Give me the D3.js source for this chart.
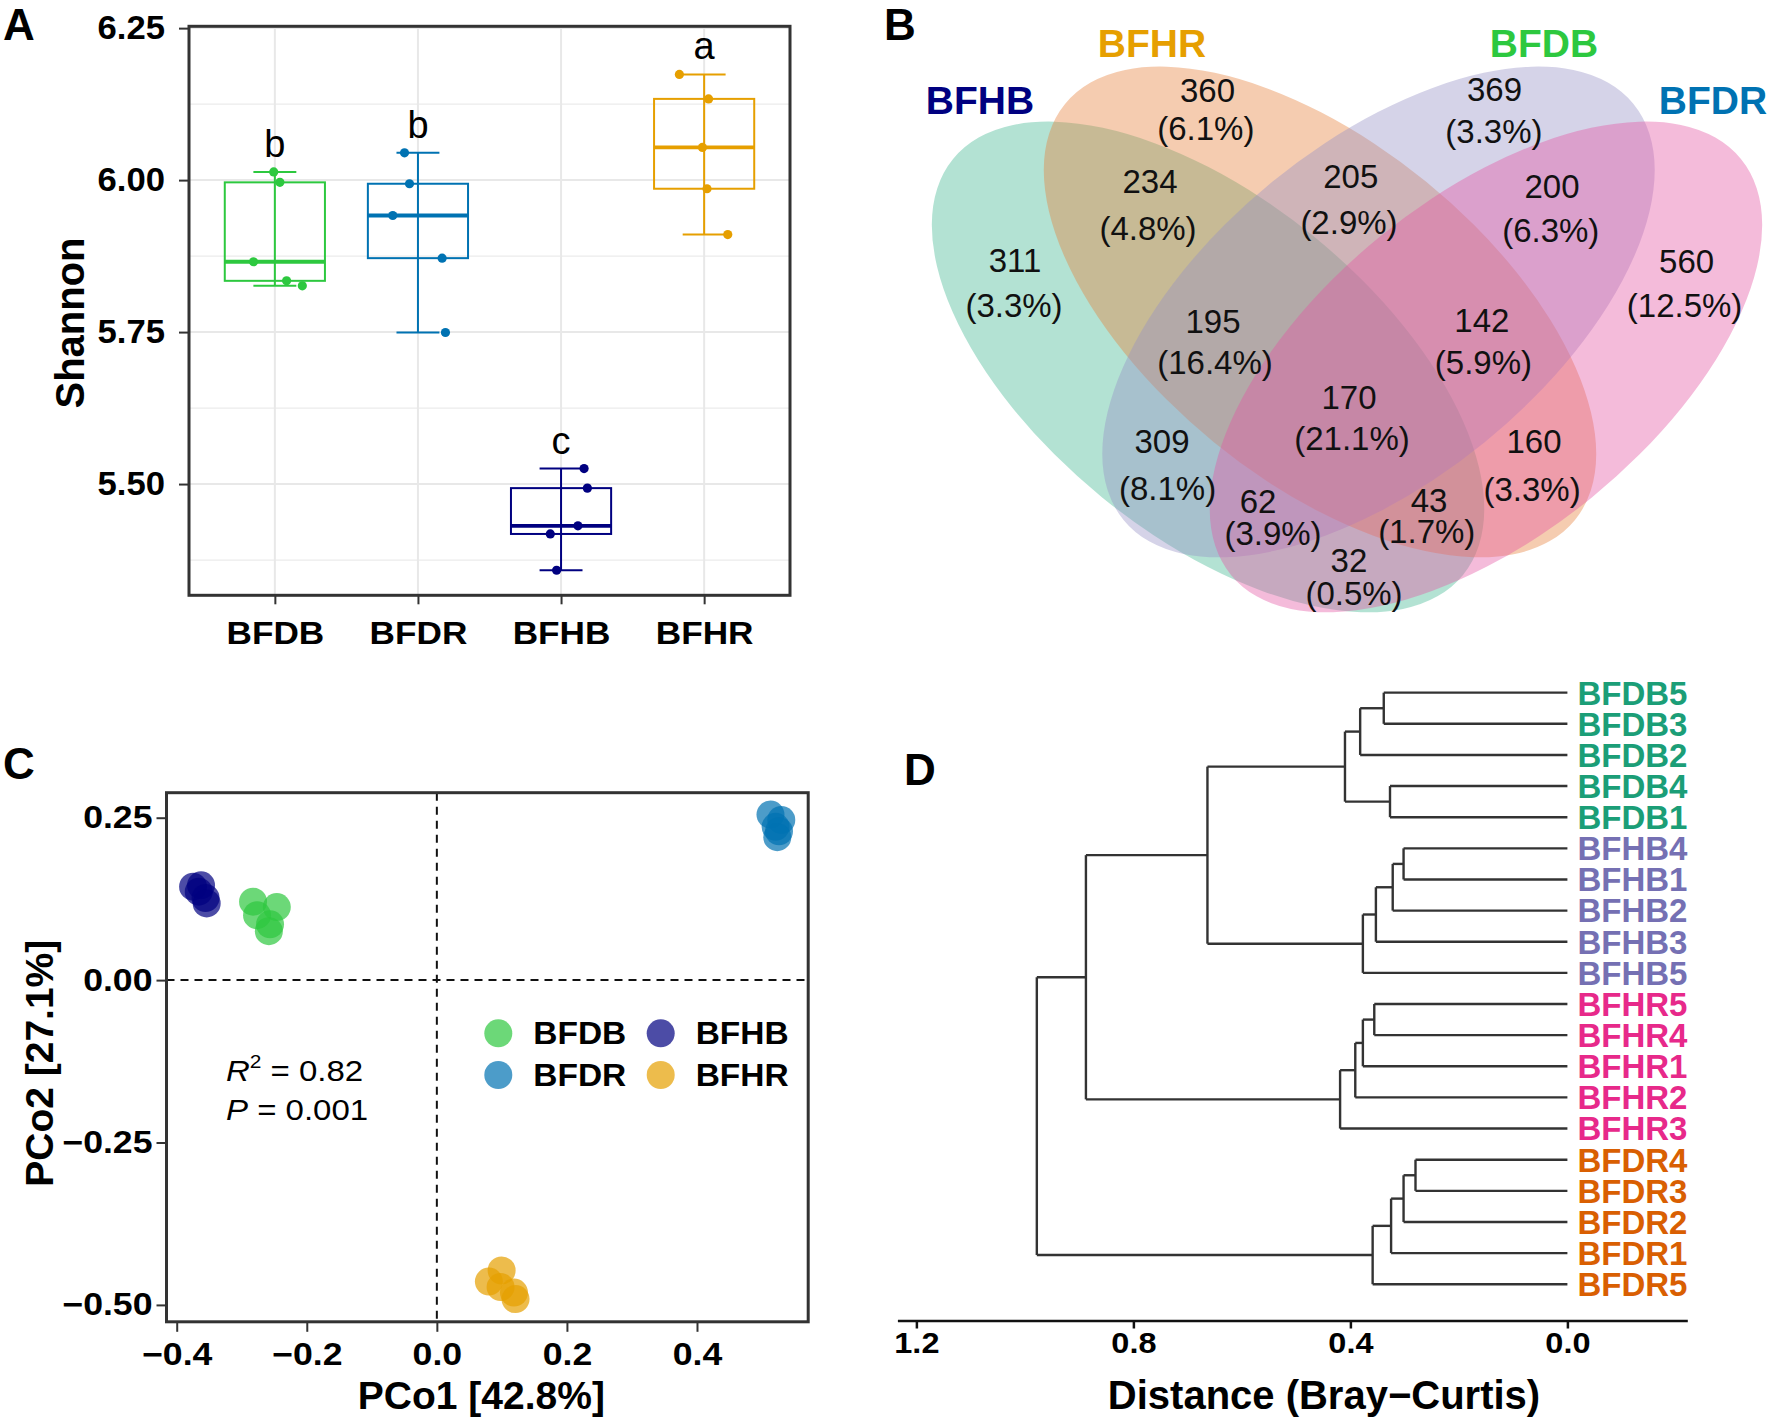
<!DOCTYPE html>
<html>
<head>
<meta charset="utf-8">
<script src="https://cdn.jsdelivr.net/npm/d3@7"></script>
<style>
  html, body { margin: 0; padding: 0; background: #fff; }
  svg { display: block; font-family: "Liberation Sans", Arial, Helvetica, sans-serif; }
</style>
</head>
<body>
<svg id="fig" width="1771" height="1423"></svg>
<script>
// ---------- data ----------
const groups = [ "BFDB", "BFDR", "BFHB", "BFHR" ];

// panel A: Shannon index, 5 samples per group
const shannonBFDB = [ 6.0134, 5.9963, 5.8657, 5.8343, 5.8261 ];
const shannonBFDR = [ 6.0448, 5.9940, 5.9418, 5.8716, 5.7493 ];
const shannonBFHB = [ 5.5254, 5.4933, 5.4313, 5.4179, 5.3582 ];
const shannonBFHR = [ 6.1739, 6.1336, 6.0537, 5.9858, 5.9104 ];
// horizontal jitter of the points, in category units
const jitterBFDB = [ -0.008, 0.035, -0.149, 0.082, 0.192 ];
const jitterBFDR = [ -0.094, -0.059, -0.176, 0.169, 0.192 ];
const jitterBFHB = [ 0.161, 0.184, 0.118, -0.075, -0.031 ];
const jitterBFHR = [ -0.173, 0.031, -0.012, 0.020, 0.165 ];
const sigLetters = [ "b", "b", "c", "a" ];
const shannonTicks = [ 5.50, 5.75, 6.00, 6.25 ];

// panel B: Venn counts
const vennSets = [ "BFHB", "BFHR", "BFDB", "BFDR" ];
const vennRegions = [ "BFHB", "BFHR", "BFDB", "BFDR", "BFHB&BFHR", "BFHR&BFDB", "BFDB&BFDR",
	"BFHB&BFHR&BFDB", "BFHR&BFDB&BFDR", "BFHB&BFHR&BFDB&BFDR", "BFHB&BFDB", "BFHR&BFDR",
	"BFHB&BFDB&BFDR", "BFHB&BFHR&BFDR", "BFHB&BFDR" ];
const vennCounts = [ 311, 360, 369, 560, 234, 205, 200, 195, 142, 170, 309, 160, 62, 43, 32 ];
const vennPercents = [ 3.3, 6.1, 3.3, 12.5, 4.8, 2.9, 6.3, 16.4, 5.9, 21.1, 8.1, 3.3, 3.9, 1.7, 0.5 ];

// panel C: PCoA scores
const pco1BFDB = [ -0.2826, -0.2461, -0.2765, -0.2565, -0.2583 ];
const pco2BFDB = [ 0.1208, 0.1124, 0.0999, 0.0859, 0.0754 ];
const pco1BFDR = [ 0.5130, 0.5296, 0.5209, 0.5261, 0.5235 ];
const pco2BFDR = [ 0.2549, 0.2465, 0.2360, 0.2291, 0.2200 ];
const pco1BFHB = [ -0.3748, -0.3626, -0.3661, -0.3557, -0.3539 ];
const pco2BFHB = [ 0.1439, 0.1459, 0.1362, 0.1264, 0.1180 ];
const pco1BFHR = [ 0.0996, 0.0800, 0.0980, 0.1186, 0.1210 ];
const pco2BFHR = [ -0.4470, -0.4640, -0.4725, -0.4810, -0.4910 ];
const pcoXTicks = [ -0.4, -0.2, 0.0, 0.2, 0.4 ];
const pcoYTicks = [ 0.25, 0.00, -0.25, -0.50 ];

// panel D: hclust style merges (negative = leaf index, positive = earlier merge)
const leafNames = [ "BFDB5", "BFDB3", "BFDB2", "BFDB4", "BFDB1", "BFHB4", "BFHB1", "BFHB2", "BFHB3", "BFHB5",
	"BFHR5", "BFHR4", "BFHR1", "BFHR2", "BFHR3", "BFDR4", "BFDR3", "BFDR2", "BFDR1", "BFDR5" ];
const mergeLeft   = [ -16, -6,  1,  2,  3, -4, -1,  4, -11,  5,  8,  9,  7, 12, 13, 14, 15, 17, 18 ];
const mergeRight  = [ -17, -7, -18, -8, -19, -5, -2, -9, -12, -20, -10, -13, -3, -14, 6, -15, 11, 16, 10 ];
const mergeHeight = [ 0.280, 0.302, 0.302, 0.322, 0.325, 0.327, 0.3385, 0.353, 0.356, 0.359,
	0.377, 0.377, 0.382, 0.391, 0.410, 0.419, 0.6635, 0.8875, 0.978 ];
const distTicks = [ 1.2, 0.8, 0.4, 0.0 ];

// ---------- styles ----------
const groupColor = { BFDB: "#2DC83F", BFDR: "#0072B2", BFHB: "#000080", BFHR: "#E69F00" };
const vennFill = { BFHB: "#41B691", BFHR: "#E6803A", BFDB: "#9691C6", BFDR: "#E455A3" };
const leafColor = { BFDB: "#1B9E77", BFHB: "#7570B3", BFHR: "#E7298A", BFDR: "#D95F02" };

const svg = d3.select( "#fig" );

// widen text horizontally around its anchor
function stretch( sel, k ) {
	sel.each( function() {
		let t = d3.select( this );
		let x = +t.attr( "x" ) || 0;
		t.attr( "x", x / k ).attr( "transform", "scale(" + k + ",1)" );
	});
}

// panel letters
[ [ "A", 3, 40 ], [ "B", 884, 40 ], [ "C", 3, 779 ], [ "D", 904, 785 ] ].forEach( p => {
	svg.append( "text" ).attr( "x", p[1] ).attr( "y", p[2] )
		.attr( "font-size", 44 ).attr( "font-weight", "bold" ).text( p[0] );
});

// ================= panel A =================
( function() {
	const shannon = [ shannonBFDB, shannonBFDR, shannonBFHB, shannonBFHR ];
	const jitter = [ jitterBFDB, jitterBFDR, jitterBFHB, jitterBFHR ];
	const left = 189, right = 790, top = 26.3, bottom = 595.3;

	const x = d3.scaleLinear().domain( [ 0.4, 4.6 ] ).range( [ left, right ] );
	const y = d3.scaleLinear().domain( [ 5.317, 6.253 ] ).range( [ bottom, top ] );
	const g = svg.append( "g" );

	// grid
	g.selectAll( ".minor" ).data( shannonTicks.map( v => v - 0.125 ) ).join( "line" )
		.attr( "x1", left ).attr( "x2", right ).attr( "y1", d => y( d ) ).attr( "y2", d => y( d ) )
		.attr( "stroke", "#EBEBEB" ).attr( "stroke-width", 1.2 );
	g.selectAll( ".major" ).data( shannonTicks ).join( "line" )
		.attr( "x1", left ).attr( "x2", right ).attr( "y1", d => y( d ) ).attr( "y2", d => y( d ) )
		.attr( "stroke", "#E8E8E8" ).attr( "stroke-width", 2 );
	g.selectAll( ".vgrid" ).data( groups ).join( "line" )
		.attr( "x1", ( d, i ) => x( i + 1 ) ).attr( "x2", ( d, i ) => x( i + 1 ) )
		.attr( "y1", top ).attr( "y2", bottom )
		.attr( "stroke", "#E8E8E8" ).attr( "stroke-width", 2 );

	groups.forEach( ( grp, i ) => {
		let vals = shannon[ i ].slice().sort( d3.ascending );
		let q1 = d3.quantile( vals, 0.25 ), med = d3.quantile( vals, 0.5 ), q3 = d3.quantile( vals, 0.75 );
		let iqr = q3 - q1;
		let lo = d3.min( vals.filter( v => v >= q1 - 1.5 * iqr ) );
		let hi = d3.max( vals.filter( v => v <= q3 + 1.5 * iqr ) );
		let c = groupColor[ grp ];
		let cx = i + 1;

		// error bar
		g.append( "line" ).attr( "x1", x( cx ) ).attr( "x2", x( cx ) ).attr( "y1", y( lo ) ).attr( "y2", y( hi ) )
			.attr( "stroke", c ).attr( "stroke-width", 2 );
		[ lo, hi ].forEach( v => {
			g.append( "line" ).attr( "x1", x( cx - 0.15 ) ).attr( "x2", x( cx + 0.15 ) )
				.attr( "y1", y( v ) ).attr( "y2", y( v ) ).attr( "stroke", c ).attr( "stroke-width", 2 );
		});
		// box
		g.append( "rect" ).attr( "x", x( cx - 0.35 ) ).attr( "width", x( cx + 0.35 ) - x( cx - 0.35 ) )
			.attr( "y", y( q3 ) ).attr( "height", y( q1 ) - y( q3 ) )
			.attr( "fill", "none" ).attr( "stroke", c ).attr( "stroke-width", 2 );
		g.append( "line" ).attr( "x1", x( cx - 0.35 ) ).attr( "x2", x( cx + 0.35 ) )
			.attr( "y1", y( med ) ).attr( "y2", y( med ) ).attr( "stroke", c ).attr( "stroke-width", 3.8 );
		// points
		g.selectAll( ".pt" + grp ).data( shannon[ i ] ).join( "circle" )
			.attr( "cx", ( d, j ) => x( cx + jitter[ i ][ j ] ) ).attr( "cy", d => y( d ) )
			.attr( "r", 4.6 ).attr( "fill", c );
		// letter
		g.append( "text" ).attr( "x", x( cx ) ).attr( "y", y( hi ) - 15 )
			.attr( "text-anchor", "middle" ).attr( "font-size", 38 ).text( sigLetters[ i ] );
	});

	// axes
	let ya = g.append( "g" ).attr( "transform", "translate(" + left + ",0)" )
		.call( d3.axisLeft( y ).tickValues( shannonTicks ).tickFormat( d3.format( ".2f" ) ).tickSize( 10 ).tickSizeOuter( 0 ) );
	ya.select( ".domain" ).remove();
	ya.selectAll( ".tick line" ).attr( "stroke", "#333" ).attr( "stroke-width", 2 );
	ya.selectAll( ".tick text" ).attr( "x", -24 ).attr( "fill", "#000" )
		.attr( "font-size", 33 ).attr( "font-weight", "bold" ).attr( "font-family", null );
	stretch( ya.selectAll( ".tick text" ), 1.05 );

	let xa = g.append( "g" ).attr( "transform", "translate(0," + bottom + ")" )
		.call( d3.axisBottom( x ).tickValues( [ 1, 2, 3, 4 ] ).tickFormat( d => groups[ d - 1 ] ).tickSize( 9 ).tickSizeOuter( 0 ) );
	xa.select( ".domain" ).remove();
	xa.selectAll( ".tick line" ).attr( "stroke", "#333" ).attr( "stroke-width", 2 );
	xa.selectAll( ".tick text" ).attr( "y", 26 ).attr( "fill", "#000" )
		.attr( "font-size", 32 ).attr( "font-weight", "bold" ).attr( "font-family", null );
	stretch( xa.selectAll( ".tick text" ), 1.1 );

	g.append( "rect" ).attr( "x", left ).attr( "y", top ).attr( "width", right - left ).attr( "height", bottom - top )
		.attr( "fill", "none" ).attr( "stroke", "#333" ).attr( "stroke-width", 3 );

	g.append( "text" ).attr( "transform", "translate(84,323) rotate(-90)" )
		.attr( "text-anchor", "middle" ).attr( "font-size", 40 ).attr( "font-weight", "bold" ).text( "Shannon" );
})();

// ================= panel B =================
( function() {
	// venn units: 1 unit = 900 px
	const vx = d3.scaleLinear().domain( [ 0, 1 ] ).range( [ 897, 1797 ] );
	const vy = d3.scaleLinear().domain( [ 0, 1 ] ).range( [ 40, 940 ] );
	const ellCx = [ 0.3456, 0.4700, 0.5350, 0.6544 ];
	const ellCy = [ 0.3633, 0.3022, 0.3022, 0.3633 ];
	const ellA = 0.3656, ellB = 0.1867;
	const ellRot = [ 39.2, 39.2, -39.2, -39.2 ];
	const setLabelPos = [ [ 0.0922, 0.0822 ], [ 0.2833, 0.0189 ], [ 0.7189, 0.0189 ], [ 0.9067, 0.0822 ] ];
	const countPos = [ [ 0.1311, 0.2574 ], [ 0.3450, 0.0686 ], [ 0.6639, 0.0678 ], [ 0.8773, 0.2591 ],
		[ 0.2811, 0.1703 ], [ 0.5042, 0.1644 ], [ 0.7278, 0.1756 ], [ 0.3511, 0.3250 ], [ 0.6498, 0.3242 ],
		[ 0.5022, 0.4097 ], [ 0.2944, 0.4589 ], [ 0.7078, 0.4593 ], [ 0.4011, 0.5259 ], [ 0.5911, 0.5241 ],
		[ 0.5022, 0.5908 ] ];
	const pctPos = [ [ 0.1300, 0.3074 ], [ 0.3431, 0.1111 ], [ 0.6633, 0.1140 ], [ 0.8751, 0.3076 ],
		[ 0.2789, 0.2222 ], [ 0.5022, 0.2151 ], [ 0.7264, 0.2240 ], [ 0.3533, 0.3711 ], [ 0.6516, 0.3713 ],
		[ 0.5056, 0.4550 ], [ 0.3006, 0.5111 ], [ 0.7056, 0.5122 ], [ 0.4178, 0.5611 ], [ 0.5886, 0.5592 ],
		[ 0.5078, 0.6278 ] ];

	const g = svg.append( "g" );
	g.selectAll( "ellipse" ).data( vennSets ).join( "ellipse" )
		.attr( "cx", ( d, i ) => vx( ellCx[ i ] ) ).attr( "cy", ( d, i ) => vy( ellCy[ i ] ) )
		.attr( "rx", vx( ellA ) - vx( 0 ) ).attr( "ry", vy( ellB ) - vy( 0 ) )
		.attr( "transform", ( d, i ) => "rotate(" + ellRot[ i ] + "," + vx( ellCx[ i ] ) + "," + vy( ellCy[ i ] ) + ")" )
		.attr( "fill", d => vennFill[ d ] ).attr( "fill-opacity", 0.4 );

	g.selectAll( ".cnt" ).data( vennCounts ).join( "text" )
		.attr( "x", ( d, i ) => vx( countPos[ i ][ 0 ] ) ).attr( "y", ( d, i ) => vy( countPos[ i ][ 1 ] ) )
		.attr( "text-anchor", "middle" ).attr( "font-size", 33 ).attr( "fill", "#111" ).text( d => d );
	g.selectAll( ".pct" ).data( vennPercents ).join( "text" )
		.attr( "x", ( d, i ) => vx( pctPos[ i ][ 0 ] ) ).attr( "y", ( d, i ) => vy( pctPos[ i ][ 1 ] ) )
		.attr( "text-anchor", "middle" ).attr( "font-size", 33 ).attr( "fill", "#111" )
		.text( d => "(" + d.toFixed( 1 ) + "%)" );

	g.selectAll( ".setlab" ).data( vennSets ).join( "text" )
		.attr( "x", ( d, i ) => vx( setLabelPos[ i ][ 0 ] ) ).attr( "y", ( d, i ) => vy( setLabelPos[ i ][ 1 ] ) )
		.attr( "text-anchor", "middle" ).attr( "font-size", 39 ).attr( "font-weight", "bold" )
		.attr( "fill", d => groupColor[ d ] ).text( d => d );
})();

// ================= panel C =================
( function() {
	const pco1 = [ pco1BFDB, pco1BFDR, pco1BFHB, pco1BFHR ];
	const pco2 = [ pco2BFDB, pco2BFDR, pco2BFHB, pco2BFHR ];
	const left = 166.5, right = 808.2, top = 792.7, bottom = 1321.8;
	const x = d3.scaleLinear().domain( [ -0.4157, 0.571 ] ).range( [ left, right ] );
	const y = d3.scaleLinear().domain( [ -0.526, 0.2885 ] ).range( [ bottom, top ] );
	const g = svg.append( "g" );

	g.append( "line" ).attr( "x1", x( 0 ) ).attr( "x2", x( 0 ) ).attr( "y1", top ).attr( "y2", bottom )
		.attr( "stroke", "#111" ).attr( "stroke-width", 2 ).attr( "stroke-dasharray", "8,6" );
	g.append( "line" ).attr( "x1", left ).attr( "x2", right ).attr( "y1", y( 0 ) ).attr( "y2", y( 0 ) )
		.attr( "stroke", "#111" ).attr( "stroke-width", 2 ).attr( "stroke-dasharray", "8,6" );

	groups.forEach( ( grp, i ) => {
		g.selectAll( ".p" + grp ).data( pco1[ i ] ).join( "circle" )
			.attr( "cx", d => x( d ) ).attr( "cy", ( d, j ) => y( pco2[ i ][ j ] ) )
			.attr( "r", 14 ).attr( "fill", groupColor[ grp ] ).attr( "fill-opacity", 0.7 );
	});

	let ya = g.append( "g" ).attr( "transform", "translate(" + left + ",0)" )
		.call( d3.axisLeft( y ).tickValues( pcoYTicks ).tickFormat( d3.format( ".2f" ) ).tickSize( 10 ).tickSizeOuter( 0 ) );
	ya.select( ".domain" ).remove();
	ya.selectAll( ".tick line" ).attr( "stroke", "#333" ).attr( "stroke-width", 2 );
	ya.selectAll( ".tick text" ).attr( "x", -14 ).attr( "fill", "#000" )
		.attr( "font-size", 31 ).attr( "font-weight", "bold" ).attr( "font-family", null );
	stretch( ya.selectAll( ".tick text" ), 1.15 );

	let xa = g.append( "g" ).attr( "transform", "translate(0," + bottom + ")" )
		.call( d3.axisBottom( x ).tickValues( pcoXTicks ).tickFormat( d3.format( ".1f" ) ).tickSize( 10 ).tickSizeOuter( 0 ) );
	xa.select( ".domain" ).remove();
	xa.selectAll( ".tick line" ).attr( "stroke", "#333" ).attr( "stroke-width", 2 );
	xa.selectAll( ".tick text" ).attr( "y", 21 ).attr( "fill", "#000" )
		.attr( "font-size", 31 ).attr( "font-weight", "bold" ).attr( "font-family", null );
	stretch( xa.selectAll( ".tick text" ), 1.15 );

	g.append( "rect" ).attr( "x", left ).attr( "y", top ).attr( "width", right - left ).attr( "height", bottom - top )
		.attr( "fill", "none" ).attr( "stroke", "#333" ).attr( "stroke-width", 3 );

	g.append( "text" ).attr( "x", ( left + right ) / 2 - 6 ).attr( "y", 1409 )
		.attr( "text-anchor", "middle" ).attr( "font-size", 39 ).attr( "font-weight", "bold" ).text( "PCo1 [42.8%]" );
	g.append( "text" ).attr( "transform", "translate(53," + ( ( top + bottom ) / 2 + 6 ) + ") rotate(-90)" )
		.attr( "text-anchor", "middle" ).attr( "font-size", 39 ).attr( "font-weight", "bold" ).text( "PCo2 [27.1%]" );

	// stats
	let r2 = g.append( "text" ).attr( "x", 226 ).attr( "y", 1081 ).attr( "font-size", 30 );
	r2.append( "tspan" ).attr( "font-style", "italic" ).text( "R" );
	r2.append( "tspan" ).attr( "dy", -13 ).attr( "font-size", 19 ).text( "2" );
	r2.append( "tspan" ).attr( "dy", 13 ).text( " = 0.82" );
	let pv = g.append( "text" ).attr( "x", 226 ).attr( "y", 1120 ).attr( "font-size", 30 );
	pv.append( "tspan" ).attr( "font-style", "italic" ).text( "P" );
	pv.append( "tspan" ).text( " = 0.001" );
	stretch( g.selectAll( "text" ).filter( function() { return this === r2.node() || this === pv.node(); } ), 1.1 );

	// legend, filled by column
	const keyX = [ 498.3, 660.7 ], keyY = [ 1033.3, 1075 ];
	let lg = g.selectAll( ".leg" ).data( groups ).join( "g" )
		.attr( "transform", ( d, i ) => "translate(" + keyX[ Math.floor( i / 2 ) ] + "," + keyY[ i % 2 ] + ")" );
	lg.append( "circle" ).attr( "r", 14 ).attr( "fill", d => groupColor[ d ] ).attr( "fill-opacity", 0.7 );
	let lt = lg.append( "text" ).attr( "x", 35 ).attr( "y", 11 )
		.attr( "font-size", 31 ).attr( "font-weight", "bold" ).text( d => d );
	stretch( lt, 1.08 );
})();

// ================= panel D =================
( function() {
	// build the tree from the merge table
	let nodes = [];
	function ref( k ) {
		return k < 0 ? { name: leafNames[ -k - 1 ], height: 0 } : nodes[ k - 1 ];
	}
	mergeHeight.forEach( ( h, i ) => {
		nodes.push( { height: h, children: [ ref( mergeLeft[ i ] ), ref( mergeRight[ i ] ) ] } );
	});
	const root = d3.hierarchy( nodes[ nodes.length - 1 ] );
	d3.cluster().separation( () => 1 ).size( [ leafNames.length - 1, 1 ] )( root );

	const hx = d3.scaleLinear().domain( [ 1.235, -0.221 ] ).range( [ 897.4, 1687.3 ] );
	const ly = d3.scaleLinear().domain( [ 0, leafNames.length - 1 ] ).range( [ 677.1, 1299.8 ] );
	const g = svg.append( "g" );
	const lineStyle = sel => sel.attr( "stroke", "#333" ).attr( "stroke-width", 2.4 ).attr( "fill", "none" );

	root.descendants().forEach( n => {
		if ( n.children ) {
			let ys = n.children.map( c => ly( c.x ) );
			lineStyle( g.append( "line" ).attr( "x1", hx( n.data.height ) ).attr( "x2", hx( n.data.height ) )
				.attr( "y1", d3.min( ys ) ).attr( "y2", d3.max( ys ) ) );
			n.children.forEach( c => {
				lineStyle( g.append( "line" ).attr( "x1", hx( n.data.height ) ).attr( "x2", hx( c.data.height ) )
					.attr( "y1", ly( c.x ) ).attr( "y2", ly( c.x ) ) );
			});
		}
	});

	g.selectAll( ".leaf" ).data( root.leaves() ).join( "text" )
		.attr( "x", hx( 0 ) + 10 ).attr( "y", d => ly( d.x ) ).attr( "dy", "0.36em" )
		.attr( "font-size", 33 ).attr( "font-weight", "bold" )
		.attr( "fill", d => leafColor[ d.data.name.slice( 0, 4 ) ] ).text( d => d.data.name );

	let xa = g.append( "g" ).attr( "transform", "translate(0,1320.5)" )
		.call( d3.axisBottom( hx ).tickValues( distTicks ).tickFormat( d3.format( ".1f" ) ).tickSize( 8 ).tickSizeOuter( 0 ) );
	xa.select( ".domain" ).attr( "stroke", "#111" ).attr( "stroke-width", 2.5 );
	xa.selectAll( ".tick line" ).attr( "stroke", "#111" ).attr( "stroke-width", 2.5 );
	xa.selectAll( ".tick text" ).attr( "y", 12 ).attr( "fill", "#000" )
		.attr( "font-size", 29 ).attr( "font-weight", "bold" ).attr( "font-family", null );
	stretch( xa.selectAll( ".tick text" ), 1.12 );

	g.append( "text" ).attr( "x", 1324 ).attr( "y", 1409 ).attr( "text-anchor", "middle" )
		.attr( "font-size", 40 ).attr( "font-weight", "bold" ).text( "Distance (Bray\u2212Curtis)" );
})();
</script>
</body>
</html>
